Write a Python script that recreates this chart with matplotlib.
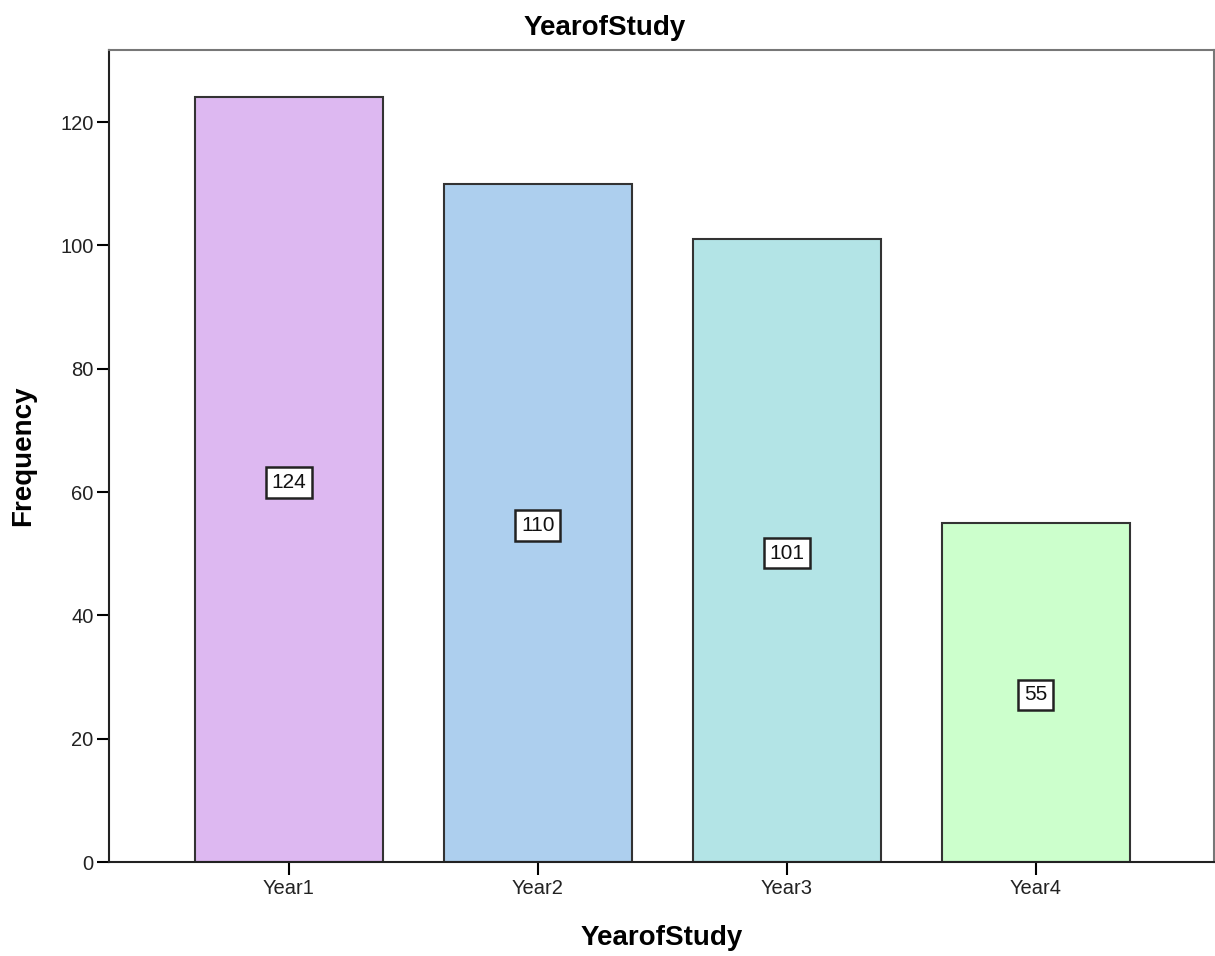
import matplotlib.pyplot as plt

plt.rcParams['font.family'] = ['Liberation Sans', 'DejaVu Sans']

categories = ['Year1', 'Year2', 'Year3', 'Year4']
counts = [124, 110, 101, 55]
bar_colors = ['#DDB8F1', '#ADCFEE', '#B3E4E6', '#CCFFCC']

fig = plt.figure(figsize=(12.15, 9.56), dpi=100)
ax = fig.add_axes([0.0897, 0.0983, 0.9093, 0.8494])

pos = range(len(categories))
bars = ax.bar(pos, counts, width=0.755, color=bar_colors, edgecolor='#333333', linewidth=1.5)

# count label in the middle of each bar
for b, v in zip(bars, counts):
    ax.text(b.get_x() + b.get_width() / 2, v / 2 - 0.4, str(v), ha='center', va='center',
            fontsize=15, color='#111111',
            bbox=dict(boxstyle='square,pad=0.28', fc='white', ec='#222222', lw=1.8))

ax.set_xlim(-0.723, 3.715)
ax.set_ylim(0, 131.7)
ax.set_xticks(list(pos))
ax.set_xticklabels(categories)
ax.set_yticks(range(0, 121, 20))

ax.tick_params(axis='y', direction='out', length=9, width=1.5, labelsize=14.5, pad=2,
               labelcolor='#222222')
ax.tick_params(axis='x', direction='out', length=9, width=1.5, labelsize=14.5, pad=3,
               labelcolor='#222222')

for s in ['left', 'bottom']:
    ax.spines[s].set_color('#222222')
    ax.spines[s].set_linewidth(1.5)
for s in ['top', 'right']:
    ax.spines[s].set_color('#777777')
    ax.spines[s].set_linewidth(1.5)

ax.set_xlabel('YearofStudy', fontsize=20, fontweight='bold', va='baseline')
ax.xaxis.set_label_coords(0.5, -0.102)
ax.set_ylabel('Frequency', fontsize=20, fontweight='bold', va='center', ha='center')
ax.yaxis.set_label_coords(-0.0778, 0.5)
fig.text(0.4975, 0.9635, 'YearofStudy', ha='center', va='baseline', fontsize=20, fontweight='bold')

fig.savefig('out.png', dpi=100)
